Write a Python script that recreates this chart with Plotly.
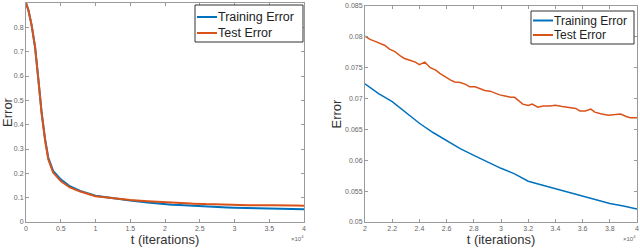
import plotly.graph_objects as go

# ---------------- data ----------------
# Full run (left panel), early part up to 20000 iterations
t_early = [0, 350, 800, 1300, 1800, 2250, 2750, 3200, 3900, 5000, 6300, 7800,
           10000, 12500, 15000, 17500]
train_early = [0.9, 0.87, 0.81, 0.72, 0.58, 0.45, 0.34, 0.265, 0.21, 0.175,
               0.147, 0.128, 0.108, 0.097, 0.088, 0.080]
test_early = [0.9, 0.87, 0.81, 0.72, 0.58, 0.445, 0.335, 0.258, 0.203, 0.168,
              0.142, 0.125, 0.106, 0.097, 0.090, 0.085]

# Zoomed part (right panel), 20000..40000 iterations
t_train_zoom = [20000, 21000, 22000, 23000, 24000, 25000, 26000, 27000, 28000,
                29000, 30000, 31000, 32000, 33000, 34000, 35000, 36000, 37000,
                38000, 39000, 40000]
train_zoom = [0.0724, 0.0708, 0.0695, 0.0677, 0.0660, 0.0645, 0.0632, 0.0619,
              0.0608, 0.0597, 0.0587, 0.0578, 0.0566, 0.0560, 0.0554, 0.0547,
              0.0541, 0.0535, 0.0530, 0.0526, 0.0521]

t_test_zoom = [20000, 20370, 20700, 21100, 21470, 21800, 22200, 22600, 22900,
               23300, 23700, 24000, 24400, 24800, 25200, 25500, 25900, 26300,
               26600, 27000, 27400, 27700, 28100, 28500, 28800, 29200, 29600,
               29900, 30300, 30700, 31000, 31300, 31600, 32000, 32300, 32700,
               33100, 33600, 34000, 34500, 34900, 35500, 35800, 36200, 36600,
               36900, 37400, 37900, 38400, 38800, 39200, 39500, 40000]
test_zoom = [0.0801, 0.0796, 0.0793, 0.0789, 0.0786, 0.0780, 0.0776, 0.0769,
             0.0765, 0.0762, 0.0759, 0.0755, 0.0759, 0.0750, 0.0746, 0.0741,
             0.0735, 0.0730, 0.0727, 0.0726, 0.0723, 0.0719, 0.0719, 0.0716,
             0.0713, 0.0712, 0.0708, 0.0706, 0.0704, 0.0702, 0.0702, 0.0696,
             0.0691, 0.0689, 0.0691, 0.0686, 0.0688, 0.0688, 0.0689, 0.0687,
             0.0686, 0.0684, 0.0680, 0.0680, 0.0683, 0.0678, 0.0675, 0.0673,
             0.0674, 0.0675, 0.0671, 0.0669, 0.0669]

# tick labels
left_xticks = [0, 5000, 10000, 15000, 20000, 25000, 30000, 35000, 40000]
left_xlabels = ["0", "0.5", "1", "1.5", "2", "2.5", "3", "3.5", "4"]
left_yticks = [0, 0.1, 0.2, 0.3, 0.4, 0.5, 0.6, 0.7, 0.8, 0.9]
left_ylabels = ["0", "0.1", "0.2", "0.3", "0.4", "0.5", "0.6", "0.7", "0.8", "0.9"]
right_xticks = [20000, 22000, 24000, 26000, 28000, 30000, 32000, 34000, 36000, 38000, 40000]
right_xlabels = ["2", "2.2", "2.4", "2.6", "2.8", "3", "3.2", "3.4", "3.6", "3.8", "4"]
right_yticks = [0.05, 0.055, 0.06, 0.065, 0.07, 0.075, 0.08, 0.085]
right_ylabels = ["0.05", "0.055", "0.06", "0.065", "0.07", "0.075", "0.08", "0.085"]

series_names = ["Training Error", "Test Error"]
x_title = "t (iterations)"
y_title = "Error"
exp_label = "×10<sup>4</sup>"

# ---------------- figure ----------------
BLUE = "#0072BD"
ORANGE = "#D95319"
FONT = "Liberation Sans, Arial, Helvetica, sans-serif"
W, H = 640, 249


def px(x):
    return x / W


def py(y):
    return 1 - y / H


t_full = t_early + t_train_zoom
train_full = train_early + train_zoom
test_full = test_early + test_zoom
t_full_test = t_early + t_test_zoom

fig = go.Figure()
fig.add_trace(go.Scatter(x=t_full, y=train_full, name=series_names[0], mode="lines",
                         line=dict(color=BLUE, width=2), xaxis="x", yaxis="y"))
fig.add_trace(go.Scatter(x=t_full_test, y=test_full, name=series_names[1], mode="lines",
                         line=dict(color=ORANGE, width=2), xaxis="x", yaxis="y"))
fig.add_trace(go.Scatter(x=t_train_zoom, y=train_zoom, name=series_names[0], mode="lines",
                         line=dict(color=BLUE, width=1.5), xaxis="x2", yaxis="y2"))
fig.add_trace(go.Scatter(x=t_test_zoom, y=test_zoom, name=series_names[1], mode="lines",
                         line=dict(color=ORANGE, width=1.5), xaxis="x2", yaxis="y2"))

axis_common = dict(showgrid=False, zeroline=False, showline=True, linecolor="#9a9a9a",
                   linewidth=1, mirror="allticks", ticks="inside", ticklen=3,
                   tickcolor="#9a9a9a", automargin=False,
                   tickfont=dict(size=7, color="#666666", family=FONT))
title_font = dict(size=13, color="#333333", family=FONT)

# manual legends (MATLAB style boxes)
legend_boxes = [
    dict(x0=195, x1=303, y0=5, y1=42, line_x0=197, line_x1=217, text_x=217,
         rows=[17, 33], size=12.5),
    dict(x0=531, x1=634, y0=11, y1=44, line_x0=533, line_x1=553, text_x=553,
         rows=[20.5, 35], size=12),
]
shapes = []
annotations = []
for lb in legend_boxes:
    shapes.append(dict(type="rect", xref="paper", yref="paper",
                       x0=px(lb["x0"]), x1=px(lb["x1"]), y0=py(lb["y1"]), y1=py(lb["y0"]),
                       line=dict(color="#333333", width=1), fillcolor="white", layer="above"))
    for name, color, ry in zip(series_names, [BLUE, ORANGE], lb["rows"]):
        shapes.append(dict(type="line", xref="paper", yref="paper",
                           x0=px(lb["line_x0"]), x1=px(lb["line_x1"]), y0=py(ry), y1=py(ry),
                           line=dict(color=color, width=2), layer="above"))
        annotations.append(dict(text=name, xref="paper", yref="paper",
                                x=px(lb["text_x"]), y=py(ry), xanchor="left",
                                yanchor="middle", showarrow=False, borderpad=0,
                                font=dict(size=lb["size"], color="#222222", family=FONT)))

annotations += [
    dict(text=exp_label, xref="paper", yref="paper", x=px(306), y=py(238),
         xanchor="right", yanchor="middle", showarrow=False,
         font=dict(size=6, color="#666666", family=FONT)),
    dict(text=exp_label, xref="paper", yref="paper", x=px(638), y=py(238),
         xanchor="right", yanchor="middle", showarrow=False,
         font=dict(size=6, color="#666666", family=FONT)),
]

fig.update_layout(
    width=W, height=H, autosize=False,
    margin=dict(l=0, r=0, t=0, b=0, autoexpand=False),
    paper_bgcolor="white", plot_bgcolor="white",
    font=dict(family=FONT, color="#262626"),
    showlegend=False,
    xaxis=dict(domain=[px(26), px(304)], range=[0, 40000], tickvals=left_xticks,
               ticktext=left_xlabels, anchor="y",
               title=dict(text=x_title, font=title_font, standoff=2),
               **axis_common),
    yaxis=dict(domain=[py(222), py(3)], range=[0, 0.9], tickvals=left_yticks,
               ticktext=left_ylabels, anchor="x",
               title=dict(text=y_title, font=title_font, standoff=0),
               **axis_common),
    xaxis2=dict(domain=[px(365), px(637)], range=[20000, 40000], tickvals=right_xticks,
                ticktext=right_xlabels, anchor="y2",
                title=dict(text=x_title, font=title_font, standoff=2),
                **axis_common),
    yaxis2=dict(domain=[py(222), py(6)], range=[0.05, 0.085], tickvals=right_yticks,
                ticktext=right_ylabels, anchor="x2",
                title=dict(text=y_title, font=title_font, standoff=0),
                **axis_common),
    shapes=shapes,
    annotations=annotations,
)

fig.write_html("out.html",
               config={"displayModeBar": False, "staticPlot": True},
               post_script="document.body.style.margin='0';document.body.style.overflow='hidden';")
